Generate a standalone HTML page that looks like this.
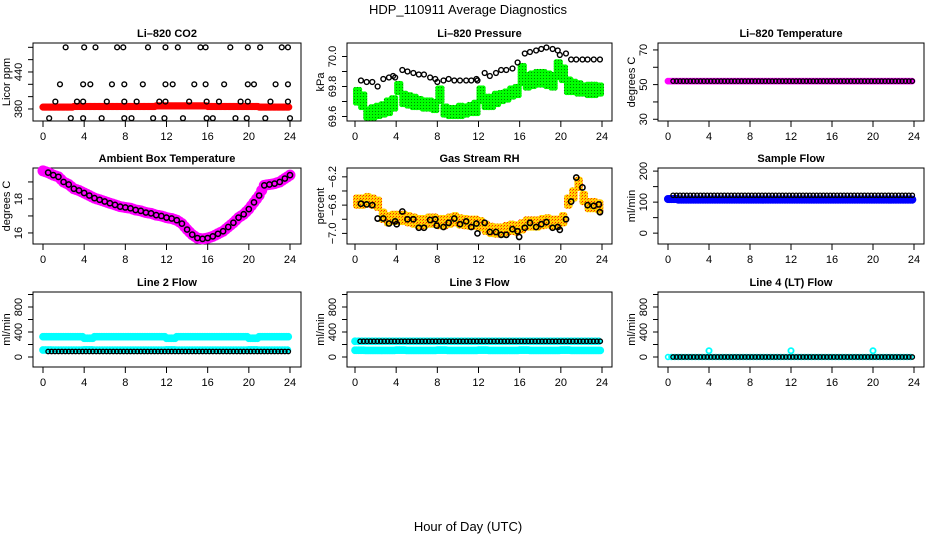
<!DOCTYPE html>
<html><head><meta charset="utf-8"><style>
html,body{margin:0;padding:0;background:#fff}
svg{display:block;font-family:"Liberation Sans",sans-serif}
</style></head><body>
<svg id="c" width="936" height="540" viewBox="0 0 936 540" xmlns="http://www.w3.org/2000/svg">
<defs>
<pattern id="rhpat" width="3" height="3" patternUnits="userSpaceOnUse"><rect width="3" height="3" fill="#ffd400"/><rect width="1" height="1" fill="#ff2000"/><rect x="2" y="1" width="1" height="1" fill="#ff6a00"/></pattern>
<pattern id="grpat" width="3" height="3" patternUnits="userSpaceOnUse"><rect width="3" height="3" fill="#00ff00"/><rect width="1" height="1" fill="#008800"/></pattern>
</defs>
<text x="468" y="14" text-anchor="middle" font-size="13">HDP_110911  Average Diagnostics</text>
<text x="468" y="531" text-anchor="middle" font-size="13">Hour of Day (UTC)</text>
</svg>
<script>
// ---- data ----
const xTicks = [0,4,8,12,16,20,24];
// CO2
const co2TopH = [2.2,4.0,5.1,7.2,7.8,10.2,11.9,13.1,15.3,15.8,18.2,19.9,21.1,23.2,23.8];
const co2MidH = [1.65,3.9,4.6,6.7,7.9,9.7,11.9,12.6,14.7,15.8,17.6,19.9,20.5,22.6,23.8];
const co2LowH = [1.2,3.3,3.9,6.2,7.9,9.1,11.3,11.9,14.2,15.9,17.1,19.2,19.9,22.1,23.8];
const co2BotH = [0.6,2.7,3.9,5.7,7.9,8.6,10.7,11.8,13.6,15.9,16.5,18.7,19.8,21.6,24.0];
const co2Levels = [480,420,392,365];
const co2RedHourly = [383,383,383,384,384,384,384,384,384,384,384,385,385,385,385,385,384,384,384,384,384,383,383,383,383];
// Pressure
const presBlackH = [0.58,1.13,1.68,2.2,2.75,3.3,3.7,3.9,4.6,5.1,5.67,6.2,6.7,7.3,7.8,8.0,8.6,9.1,9.65,10.2,10.8,11.3,11.8,11.9,12.6,13.1,13.7,14.2,14.7,15.3,15.8,16.5,17.0,17.6,18.1,18.6,19.2,19.7,19.9,20.5,21.0,21.5,22.1,22.6,23.2,23.8];
const presBlackV = [69.84,69.83,69.83,69.80,69.85,69.86,69.87,69.86,69.91,69.90,69.89,69.88,69.88,69.86,69.85,69.83,69.84,69.85,69.84,69.84,69.84,69.84,69.85,69.84,69.89,69.87,69.89,69.91,69.91,69.92,69.96,70.02,70.03,70.04,70.05,70.06,70.05,70.04,70.01,70.02,69.98,69.98,69.98,69.98,69.98,69.98];
const presGreenH = [0.25,0.75,1.25,1.75,2.25,2.75,3.25,3.75,4.25,4.75,5.25,5.75,6.25,6.75,7.25,7.75,8.25,8.75,9.25,9.75,10.25,10.75,11.25,11.75,12.25,12.75,13.25,13.75,14.25,14.75,15.25,15.75,16.25,16.75,17.25,17.75,18.25,18.75,19.25,19.75,20.25,20.75,21.25,21.75,22.25,22.75,23.25,23.75];
const presGreenLo = [69.69,69.66,69.59,69.59,69.60,69.61,69.62,69.65,69.76,69.68,69.67,69.66,69.66,69.65,69.65,69.64,69.70,69.61,69.60,69.60,69.60,69.61,69.62,69.62,69.70,69.66,69.66,69.68,69.70,69.71,69.73,69.74,69.82,69.79,69.80,69.81,69.81,69.80,69.79,69.86,69.84,69.76,69.76,69.75,69.75,69.74,69.74,69.75];
const presGreenHi = [69.78,69.75,69.66,69.67,69.68,69.69,69.71,69.73,69.82,69.76,69.75,69.74,69.73,69.72,69.71,69.71,69.79,69.68,69.67,69.67,69.68,69.68,69.69,69.70,69.80,69.74,69.74,69.76,69.77,69.78,69.80,69.81,69.95,69.88,69.89,69.90,69.90,69.89,69.88,69.97,69.94,69.85,69.84,69.83,69.82,69.82,69.82,69.82];
// Li-820 temperature (hourly)
const tempHourly = [52,52,52,52,52,52,52,52,52,52,52,52,52,52,52,52,52,52,52,52,52,52,52,52,52];
// Ambient
const ambH = [0,0.5,1,1.5,2,2.5,3,3.5,4,4.5,5,5.5,6,6.5,7,7.5,8,8.5,9,9.5,10,10.5,11,11.5,12,12.5,13,13.5,14,14.5,15,15.5,16,16.5,17,17.5,18,18.5,19,19.5,20,20.5,21,21.5,22,22.5,23,23.5,24];
const ambV = [19.65,19.55,19.4,19.3,19.0,18.85,18.6,18.5,18.35,18.2,18.05,17.95,17.85,17.75,17.65,17.55,17.5,17.45,17.35,17.3,17.2,17.15,17.05,17.0,16.9,16.85,16.75,16.55,16.2,15.9,15.7,15.65,15.7,15.8,15.95,16.1,16.35,16.6,16.9,17.1,17.4,17.8,18.2,18.8,18.85,18.9,19.0,19.2,19.4];
// RH
const rhBlackH = [0.58,1.13,1.68,2.2,2.75,3.3,3.9,4.05,4.6,5.1,5.67,6.2,6.7,7.3,7.8,7.94,8.6,9.1,9.65,10.2,10.8,11.3,11.8,11.9,12.6,13.1,13.7,14.2,14.7,15.3,15.8,15.95,16.5,17.0,17.6,18.1,18.6,19.2,19.7,19.9,20.5,21.0,21.5,22.1,22.6,23.2,23.7,23.8];
const rhBlackV = [-6.58,-6.59,-6.6,-6.79,-6.79,-6.86,-6.83,-6.87,-6.69,-6.80,-6.80,-6.92,-6.92,-6.81,-6.80,-6.89,-6.91,-6.85,-6.79,-6.87,-6.83,-6.91,-6.86,-7.0,-6.85,-6.98,-6.98,-7.02,-7.02,-6.94,-6.97,-7.05,-6.92,-6.85,-6.91,-6.87,-6.84,-6.92,-6.91,-6.95,-6.80,-6.55,-6.21,-6.35,-6.6,-6.61,-6.59,-6.70];
const rhOrangeH = [0.25,0.75,1.25,1.75,2.25,2.75,3.25,3.75,4.25,4.75,5.25,5.75,6.25,6.75,7.25,7.75,8.25,8.75,9.25,9.75,10.25,10.75,11.25,11.75,12.25,12.75,13.25,13.75,14.25,14.75,15.25,15.75,16.25,16.75,17.25,17.75,18.25,18.75,19.25,19.75,20.25,20.75,21.25,21.75,22.25,22.75,23.25,23.75];
const rhOrangeV = [-6.55,-6.55,-6.53,-6.55,-6.58,-6.75,-6.8,-6.78,-6.78,-6.78,-6.8,-6.82,-6.84,-6.84,-6.82,-6.82,-6.84,-6.84,-6.82,-6.8,-6.83,-6.84,-6.85,-6.85,-6.87,-6.92,-6.95,-6.96,-6.96,-6.94,-6.92,-6.93,-6.9,-6.86,-6.86,-6.86,-6.84,-6.83,-6.85,-6.85,-6.8,-6.55,-6.45,-6.3,-6.5,-6.6,-6.6,-6.62];
// Sample flow (hourly)
const sfBlackHourly = [122,122,122,122,122,122,122,122,122,122,122,122,122,122,122,122,122,122,122,122,122,122,122,122,122];
const sfBlueHourly = [110,108,108,108,108,108,108,108,108,108,108,108,108,108,108,108,108,108,108,108,108,108,108,108,108];
// Line flows (hourly)
const l2CyanHi = [325,325,325,325,300,325,325,325,325,325,325,325,300,325,325,325,325,325,325,325,300,325,325,325,325];
const l2CyanLo = [112,110,110,110,115,110,110,110,110,110,110,110,115,110,110,110,110,110,110,110,115,110,110,110,110];
const l2Black = [88,88,88,88,88,88,88,88,88,88,88,88,88,88,88,88,88,88,88,88,88,88,88,88,88];
const l3Black = [252,252,252,252,252,252,252,252,252,252,252,252,252,252,252,252,252,252,252,252,252,252,252,252,252];
const l3Cyan = [108,105,105,105,110,105,105,105,110,105,105,105,110,105,105,105,110,105,105,105,110,105,105,105,105];
const l4Black = [0,0,0,0,0,0,0,0,0,0,0,0,0,0,0,0,0,0,0,0,0,0,0,0,0];
const l4Cyan = [0,0,0,0,100,0,0,0,0,0,0,0,100,0,0,0,0,0,0,0,100,0,0,0,0];

// ---- drawing ----
const svg = document.getElementById('c');
const NS = 'http://www.w3.org/2000/svg';
function el(tag, attrs, parent){const e=document.createElementNS(NS,tag);for(const k in attrs)e.setAttribute(k,attrs[k]);(parent||svg).appendChild(e);return e;}
const cols = [{l:33,r:301,x0:43,x24:290},{l:347,r:612,x0:355,x24:602},{l:658,r:924,x0:668,x24:914}];
const rows = [{t:43,b:121},{t:168,b:244},{t:292,b:367}];

function panel(ci,ri,name,title,ylab,yAt,ticks,labels,dec){
  const c=cols[ci],r=rows[ri];
  const g=el('g',{});
  
  
  const xs=h=>c.x0+h*(c.x24-c.x0)/24;
  const ys=v=>r.b-(v-yAt[0])*(r.b-r.t)/(yAt[1]-yAt[0]);
  const t=el('text',{x:(c.l+c.r)/2,y:r.t-6,'text-anchor':'middle','font-size':11,'font-weight':'bold'},g);t.textContent=title;
  
  
  const box=el('rect',{x:c.l,y:r.t,width:c.r-c.l,height:r.b-r.t,fill:'none',stroke:'#000','stroke-width':1},g);
  
  
  const xa=el('g',{},g);
  
  
  el('line',{x1:xs(0),x2:xs(24),y1:r.b,y2:r.b,stroke:'#000'},xa);
  xTicks.forEach(h=>{el('line',{x1:xs(h),x2:xs(h),y1:r.b,y2:r.b+6,stroke:'#000'},xa);
    const tx=el('text',{x:xs(h),y:r.b+19,'text-anchor':'middle','font-size':11},xa);tx.textContent=h;});
  const ya=el('g',{},g);
  
  
  ticks.forEach(v=>{el('line',{x1:c.l-5,x2:c.l,y1:ys(v),y2:ys(v),stroke:'#000'},ya);});
  labels.forEach(v=>{const tx=el('text',{x:c.l-11,y:ys(v),'text-anchor':'middle','font-size':11,transform:`rotate(-90 ${c.l-11} ${ys(v)})`},ya);tx.textContent=v.toFixed(dec||0).replace('-','\u2212');});
  const yl=el('text',{x:c.l-23,y:(r.t+r.b)/2,'text-anchor':'middle','font-size':11,transform:`rotate(-90 ${c.l-23} ${(r.t+r.b)/2})`},g);yl.textContent=ylab;
  
  
  const m=el('g',{},g);
  
  
  return {xs,ys,m};
}
function pt(p,h,v,color,r,sw,fill){const e=el('circle',{cx:p.xs(h),cy:p.ys(v),r:r||2.4,fill:fill||'none',stroke:color,'stroke-width':sw||1.4},p.m);
  
  return e;}
function hourlySeries(p,arr,color,r,sw,perHour,start,fill){
  for(let h=0;h<24;h++){for(let k=0;k<perHour;k++){const t=h+start+k/perHour;if(t>24)continue;pt(p,t,arr[h],color,r,sw,fill);}}
}
function bandSeries(p,hs,lo,hi,fill,step){
  hs.forEach((h,i)=>{for(let v=lo[i];v<=hi[i]+1e-9;v+=step){for(let d=-0.2;d<=0.2;d+=0.2){const e=el('circle',{cx:p.xs(h+d),cy:p.ys(v),r:2.6,fill:fill},p.m);
    
    }}});
}

// Panel 1 CO2
let p=panel(0,0,'co2-panel','Li\u2013820 CO2','Licor ppm',[360.5,487],[380,400,420,440,460,480],[380,440]);
hourlySeries(p,co2RedHourly,'#ff0000',2.2,2.8,8,0,'#ff0000');
[co2TopH,co2MidH,co2LowH,co2BotH].forEach((hs,i)=>hs.forEach(h=>pt(p,h,co2Levels[i],'#000')));
// Panel 2 Pressure
p=panel(1,0,'pressure-panel','Li\u2013820 Pressure','kPa',[69.57,70.09],[69.6,69.7,69.8,69.9,70.0],[69.6,69.8,70.0],1);
bandSeries(p,presGreenH,presGreenLo,presGreenHi,'url(#grpat)',0.015);
presBlackH.forEach((h,i)=>pt(p,h,presBlackV[i],'#000'));
// Panel 3 Temperature
p=panel(2,0,'li820-temperature-panel','Li\u2013820 Temperature','degrees C',[29,74],[30,40,50,60,70],[30,50,70]);
hourlySeries(p,tempHourly,'#ff00ff',2.4,2,5,0,'#ff00ff');
hourlySeries(p,tempHourly,'#000',2.2,1.3,3,0.5);
// Panel 4 Ambient
p=panel(0,1,'ambient-temperature-panel','Ambient Box Temperature','degrees C',[15.35,19.82],[16,17,18,19],[16,18]);
ambH.forEach((h,i)=>{pt(p,h,ambV[i],'#ff00ff',4,3,'#ff00ff');if(i<ambH.length-1)pt(p,(h+ambH[i+1])/2,(ambV[i]+ambV[i+1])/2,'#ff00ff',4,3,'#ff00ff');});
ambH.forEach((h,i)=>{if(h>0)pt(p,h,ambV[i],'#000',2.6,1.5);});
// Panel 5 RH
p=panel(1,1,'gas-stream-rh-panel','Gas Stream RH','percent',[-7.15,-6.075],[-7.0,-6.8,-6.6,-6.4,-6.2],[-7.0,-6.6,-6.2],1);
rhOrangeH.forEach((h,i)=>{[-0.06,-0.03,0,0.03,0.06].forEach(d=>{[-0.15,0.1].forEach(dx=>{const e=el('circle',{cx:p.xs(h+dx),cy:p.ys(rhOrangeV[i]+d),r:3,fill:'url(#rhpat)'},p.m);
  
  });});});
rhBlackH.forEach((h,i)=>pt(p,h,rhBlackV[i],'#000',2.6,1.6));
// Panel 6 Sample flow
p=panel(2,1,'sample-flow-panel','Sample Flow','ml/min',[-35,210],[0,50,100,150,200],[0,100,200]);
hourlySeries(p,sfBlueHourly,'#0000ff',2.8,2.5,6,0,'#0000ff');
hourlySeries(p,sfBlackHourly,'#000',2.2,1.3,3,0.5);
// Panel 7 Line 2
p=panel(0,2,'line2-flow-panel','Line 2 Flow','ml/min',[-160,1040],[0,200,400,600,800,1000],[0,400,800]);
hourlySeries(p,l2CyanHi,'#00ffff',2.6,2.5,6,0,'#00ffff');
hourlySeries(p,l2CyanLo,'#00ffff',2.6,2.5,4,0,'#00ffff');
hourlySeries(p,l2Black,'#000',2.2,1.3,3,0.5);
// Panel 8 Line 3
p=panel(1,2,'line3-flow-panel','Line 3 Flow','ml/min',[-160,1040],[0,200,400,600,800,1000],[0,400,800]);
hourlySeries(p,l3Cyan,'#00ffff',2.6,2.5,6,0,'#00ffff');
hourlySeries(p,l3Black,'#00ffff',2.6,2.5,3,0,'#00ffff');
hourlySeries(p,l3Black,'#000',2.2,1.3,3,0.5);
// Panel 9 Line 4
p=panel(2,2,'line4-flow-panel','Line 4 (LT) Flow','ml/min',[-160,1040],[0,200,400,600,800,1000],[0,400,800]);
hourlySeries(p,l4Black,'#00ffff',2.4,1.6,3,0);
l4Cyan.forEach((v,h)=>{if(v>0)pt(p,h,v,'#00ffff',2.6,1.8);});
hourlySeries(p,l4Black,'#000',2.2,1.3,3,0.5);
</script>
</body></html>
